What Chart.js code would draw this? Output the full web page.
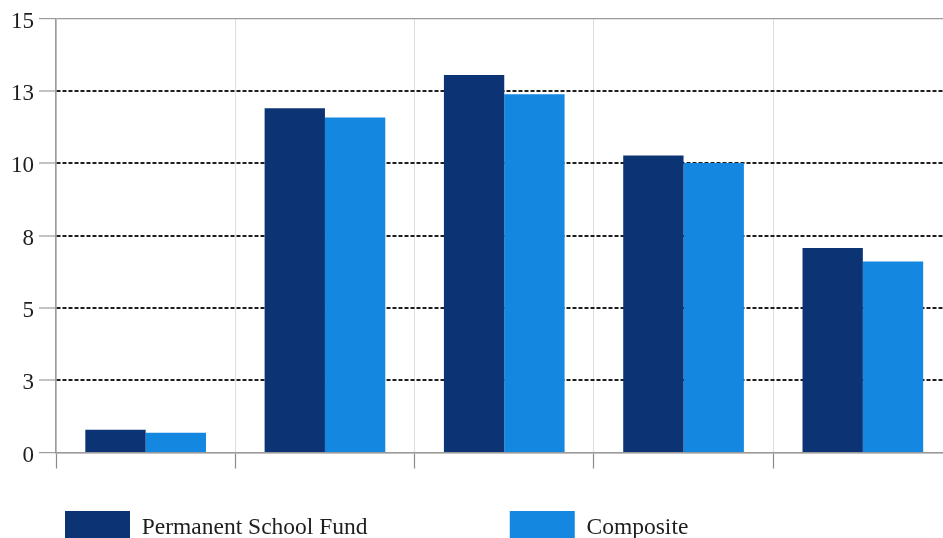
<!DOCTYPE html>
<html>
<head>
<meta charset="utf-8">
<script src="https://cdn.jsdelivr.net/npm/chart.js@4"></script>
<style>
  html, body { margin: 0; padding: 0; background: #fff; }
  #frame { width: 943px; height: 538px; overflow: hidden; position: relative; }
  #box { position: absolute; left: 0; top: 0; width: 960px; height: 554px; }
</style>
</head>
<body>
<div id="frame"><div id="box"><canvas id="chart"></canvas></div></div>
<script>
// Period groups (unlabelled on the axis)
const categories = ['', '', '', '', ''];
const seriesNames = ['Permanent School Fund', 'Composite'];
const permanentSchoolFund = [0.79, 11.91, 13.06, 10.27, 7.07];
const composite = [0.68, 11.59, 12.39, 10.01, 6.61];
// Axis steps of 2.5, printed as whole numbers
const yTickLabels = ['0', '3', '5', '8', '10', '13', '15'];

const SERIF = '"Liberation Serif", "Times New Roman", Times, serif';
const GRAY = '#9b9b9b';
const INK = '#1e1e1e';
const LEGEND_FONT_SIZE = 23.5;
// Width reserved for the first legend label so the second entry sits further right
const FIRST_LABEL_SPAN = 358.5;

const isEdgeTick = c => c.index === 0 || c.index === yTickLabels.length - 1;

new Chart(document.getElementById('chart'), {
  type: 'bar',
  data: {
    labels: categories,
    datasets: [
      { label: seriesNames[0], data: permanentSchoolFund, backgroundColor: '#0c3474', borderWidth: 0 },
      { label: seriesNames[1], data: composite, backgroundColor: '#1487e0', borderWidth: 0 }
    ]
  },
  options: {
    responsive: true,
    maintainAspectRatio: false,
    animation: false,
    events: [],
    layout: { padding: { top: 18.5, right: 7.5, bottom: 0, left: 0 } },
    datasets: { bar: { categoryPercentage: 0.673, barPercentage: 1 } },
    scales: {
      x: {
        grid: { offset: true, color: '#dedede', lineWidth: 1, tickColor: '#8a8a8a', tickLength: 16, tickWidth: 1.2 },
        border: { color: GRAY, width: 1.5 },
        ticks: { display: false },
        afterFit: s => { s.height = 49.5; }
      },
      y: {
        min: 0,
        max: 15,
        grid: {
          color: c => isEdgeTick(c) ? GRAY : INK,
          lineWidth: c => isEdgeTick(c) ? 1.2 : 2,
          tickColor: GRAY,
          tickLength: 17,
          tickWidth: 1.2
        },
        border: {
          color: GRAY,
          width: 1.5,
          dash: c => (c.type === 'tick' && !isEdgeTick(c)) ? [4, 2] : []
        },
        ticks: {
          stepSize: 2.5,
          padding: 5,
          color: INK,
          labelOffset: 3,
          font: { family: SERIF, size: 23 },
          callback: (v, i) => yTickLabels[i]
        },
        afterFit: s => { s.width = 56; }
      }
    },
    plugins: {
      legend: {
        position: 'bottom',
        align: 'start',
        fullSize: false,
        labels: {
          boxWidth: 65,
          boxHeight: 33,
          padding: 9,
          color: INK,
          font: { family: SERIF, size: LEGEND_FONT_SIZE },
          generateLabels: chart => {
            const items = Chart.defaults.plugins.legend.labels.generateLabels(chart);
            const ctx = chart.ctx;
            ctx.save();
            ctx.font = LEGEND_FONT_SIZE + 'px ' + SERIF;
            let text = items[0].text;
            const spaceW = ctx.measureText(' ').width;
            while (ctx.measureText(text).width + spaceW <= FIRST_LABEL_SPAN) text += ' ';
            let guard = 0;
            while (ctx.measureText(text).width < FIRST_LABEL_SPAN - 0.5 && guard++ < 20) text += '\u200A';
            ctx.restore();
            items[0].text = text;
            return items;
          }
        }
      },
      tooltip: { enabled: false }
    }
  }
});
</script>
</body>
</html>
